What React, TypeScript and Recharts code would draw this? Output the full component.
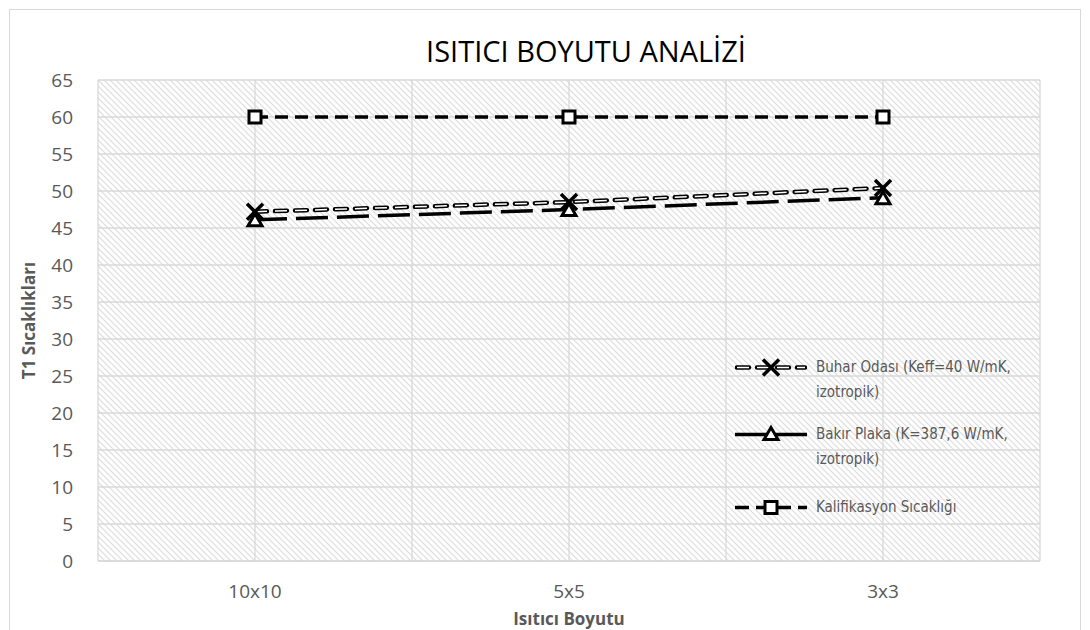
import { LineChart, Line, XAxis, YAxis, CartesianGrid, Legend } from "recharts";

// ── Data ──────────────────────────────────────────────────────────────────────

const categories = ["10x10", "5x5", "3x3"];
const buharOdasi = [47.2, 48.5, 50.4];
const bakirPlaka = [46.1, 47.5, 49.1];
const kalifikasyon = [60, 60, 60];
const yTicks = [0, 5, 10, 15, 20, 25, 30, 35, 40, 45, 50, 55, 60, 65];

const seriesNames = {
  buhar: ["Buhar Odası (Keff=40 W/mK,", "izotropik)"],
  bakir: ["Bakır Plaka (K=387,6 W/mK,", "izotropik)"],
  kalif: ["Kalifikasyon Sıcaklığı"],
};

const data = categories.map((name, i) => ({
  name,
  buhar: buharOdasi[i],
  bakir: bakirPlaka[i],
  kalif: kalifikasyon[i],
}));

// ── Styles ────────────────────────────────────────────────────────────────────

const GRID = "#d9d9d9";
const TEXT = "#595959";
const BUHAR_DASH = "12 8";
const BAKIR_DASH = "32 9";
const KALIF_DASH = "13 7";

// ── Markers ───────────────────────────────────────────────────────────────────

function XMark({ cx, cy }: { cx: number; cy: number }) {
  return (
    <g>
      <line x1={cx - 8} y1={cy - 8} x2={cx + 8} y2={cy + 8} stroke="#000" strokeWidth={3.5} />
      <line x1={cx + 8} y1={cy - 8} x2={cx - 8} y2={cy + 8} stroke="#000" strokeWidth={3.5} />
    </g>
  );
}

function TriMark({ cx, cy }: { cx: number; cy: number }) {
  return (
    <polygon
      points={`${cx},${cy - 6} ${cx + 7},${cy + 6} ${cx - 7},${cy + 6}`}
      fill="#fff"
      stroke="#000"
      strokeWidth={3}
    />
  );
}

function SqMark({ cx, cy }: { cx: number; cy: number }) {
  return <rect x={cx - 6} y={cy - 6} width={12} height={12} fill="#fff" stroke="#000" strokeWidth={3} />;
}

// ── Legend ────────────────────────────────────────────────────────────────────

function LegendSymbol({ kind }: { kind: "buhar" | "bakir" | "kalif" }) {
  const y = 12.5;
  return (
    <svg width={72} height={25} style={{ display: "block", flexShrink: 0 }}>
      {kind === "buhar" && (
        <>
          <line x1={2} y1={y} x2={70} y2={y} stroke="#000" strokeWidth={4.5} strokeDasharray={BUHAR_DASH} strokeLinecap="round" />
          <line x1={2} y1={y} x2={70} y2={y} stroke="#fff" strokeWidth={1.5} strokeDasharray={BUHAR_DASH} />
          <XMark cx={36} cy={y} />
        </>
      )}
      {kind === "bakir" && (
        <>
          <line x1={0} y1={y} x2={72} y2={y} stroke="#000" strokeWidth={3.5} />
          <TriMark cx={36} cy={y - 1} />
        </>
      )}
      {kind === "kalif" && (
        <>
          <line x1={0} y1={y} x2={72} y2={y} stroke="#000" strokeWidth={3.5} strokeDasharray="14 7" />
          <SqMark cx={36} cy={y} />
        </>
      )}
    </svg>
  );
}

function CustomLegend() {
  const items: { kind: "buhar" | "bakir" | "kalif"; top: number }[] = [
    { kind: "buhar", top: 0 },
    { kind: "bakir", top: 67 },
    { kind: "kalif", top: 140 },
  ];
  return (
    <div style={{ position: "relative", width: 310, height: 170 }}>
      {items.map((it) => (
        <div key={it.kind} style={{ position: "absolute", left: 0, top: it.top, display: "flex", alignItems: "flex-start" }}>
          <LegendSymbol kind={it.kind} />
          <div
            style={{
              marginLeft: 9,
              fontFamily: "'DejaVu Sans Condensed', 'DejaVu Sans', sans-serif",
              fontStretch: "condensed",
              fontSize: 15,
              lineHeight: "25px",
              color: TEXT,
              whiteSpace: "nowrap",
              textAlign: "left",
            }}
          >
            {seriesNames[it.kind].map((l) => (
              <div key={l}>{l}</div>
            ))}
          </div>
        </div>
      ))}
    </div>
  );
}

// ── Chart ─────────────────────────────────────────────────────────────────────

export default function App() {
  return (
    <div style={{ position: "relative", width: 1074, height: 622, overflow: "hidden", fontFamily: "'Open Sans', sans-serif" }}>
      <style>{`body{overflow:hidden}`}</style>
      <svg width={0} height={0} style={{ position: "absolute" }}>
        <defs>
          <pattern id="hatch" patternUnits="userSpaceOnUse" width={6} height={6}>
            <rect width={6} height={6} fill="#fff" />
            <path d="M0,0 L6,6 M-1,5 L1,7 M5,-1 L7,1" stroke="#dcdcdc" strokeWidth={1.2} />
          </pattern>
        </defs>
      </svg>
      <div
        style={{
          position: "absolute",
          left: 1,
          top: 1,
          width: 1072,
          height: 700,
          border: `1px solid ${GRID}`,
          boxSizing: "border-box",
        }}
      />
      <LineChart width={1074} height={622} data={data} margin={{ top: 72, right: 42, bottom: 0, left: 0 }}>
        <CartesianGrid
          stroke={GRID}
          strokeWidth={1.3}
          fill="url(#hatch)"
          fillOpacity={1}
          verticalCoordinatesGenerator={({ offset }: any) =>
            [0, 1, 2, 3, 4, 5, 6].map((k) => offset.left + (offset.width * k) / 6)
          }
        />
        <XAxis
          dataKey="name"
          padding={{ left: 157, right: 157 }}
          axisLine={{ stroke: GRID, strokeWidth: 1.3 }}
          tickLine={false}
          tickSize={0}
          tickMargin={24}
          height={69}
          tick={{ fill: TEXT, fontSize: 19, fontFamily: "'Open Sans', sans-serif" }}
          label={{
            value: "Isıtıcı Boyutu",
            position: "insideBottom",
            offset: 5,
            fill: TEXT,
            fontSize: 17,
            fontWeight: "bold",
            fontFamily: "'Open Sans', sans-serif",
          }}
        />
        <YAxis
          domain={[0, 65]}
          ticks={yTicks}
          interval={0}
          width={90}
          axisLine={false}
          tickLine={false}
          tickSize={0}
          tickMargin={25}
          tick={{ fill: TEXT, fontSize: 19, fontFamily: "'Open Sans', sans-serif" }}
          label={{
            content: ({ viewBox }: any) => {
              const cy = viewBox.y + viewBox.height / 2;
              return (
                <text
                  x={20}
                  y={cy}
                  transform={`rotate(-90 20 ${cy})`}
                  textAnchor="middle"
                  dominantBaseline="central"
                  fill={TEXT}
                  fontSize={17}
                  fontWeight="bold"
                  fontFamily="'Open Sans', sans-serif"
                >
                  T1 Sıcaklıkları
                </text>
              );
            },
          }}
        />
        <Legend
          layout="horizontal"
          verticalAlign="middle"
          align="center"
          content={() => <CustomLegend />}
          wrapperStyle={{ left: 727, top: 347, width: 320 }}
        />
        <Line
          dataKey="buhar"
          stroke="#000"
          strokeWidth={4.5}
          strokeDasharray={BUHAR_DASH}
          strokeLinecap="round"
          dot={false}
          activeDot={false}
          isAnimationActive={false}
        />
        <Line
          dataKey="buhar"
          stroke="#fff"
          strokeWidth={1.5}
          strokeDasharray={BUHAR_DASH}
          legendType="none"
          dot={(p: any) => <XMark key={`x${p.index}`} cx={p.cx} cy={p.cy} />}
          activeDot={false}
          isAnimationActive={false}
        />
        <Line
          dataKey="bakir"
          stroke="#000"
          strokeWidth={3.5}
          strokeDasharray={BAKIR_DASH}
          dot={(p: any) => <TriMark key={`t${p.index}`} cx={p.cx} cy={p.cy} />}
          activeDot={false}
          isAnimationActive={false}
        />
        <Line
          dataKey="kalif"
          stroke="#000"
          strokeWidth={3.5}
          strokeDasharray={KALIF_DASH}
          dot={(p: any) => <SqMark key={`s${p.index}`} cx={p.cx} cy={p.cy} />}
          activeDot={false}
          isAnimationActive={false}
        />
      </LineChart>
      <div
        style={{
          position: "absolute",
          left: 0,
          top: 28,
          width: 1156,
          textAlign: "center",
          fontSize: 29,
          lineHeight: "30px",
          color: "#000",
          fontFamily: "'Open Sans', sans-serif",
          pointerEvents: "none",
        }}
      >
        ISITICI BOYUTU ANALİZİ
      </div>
    </div>
  );
}
